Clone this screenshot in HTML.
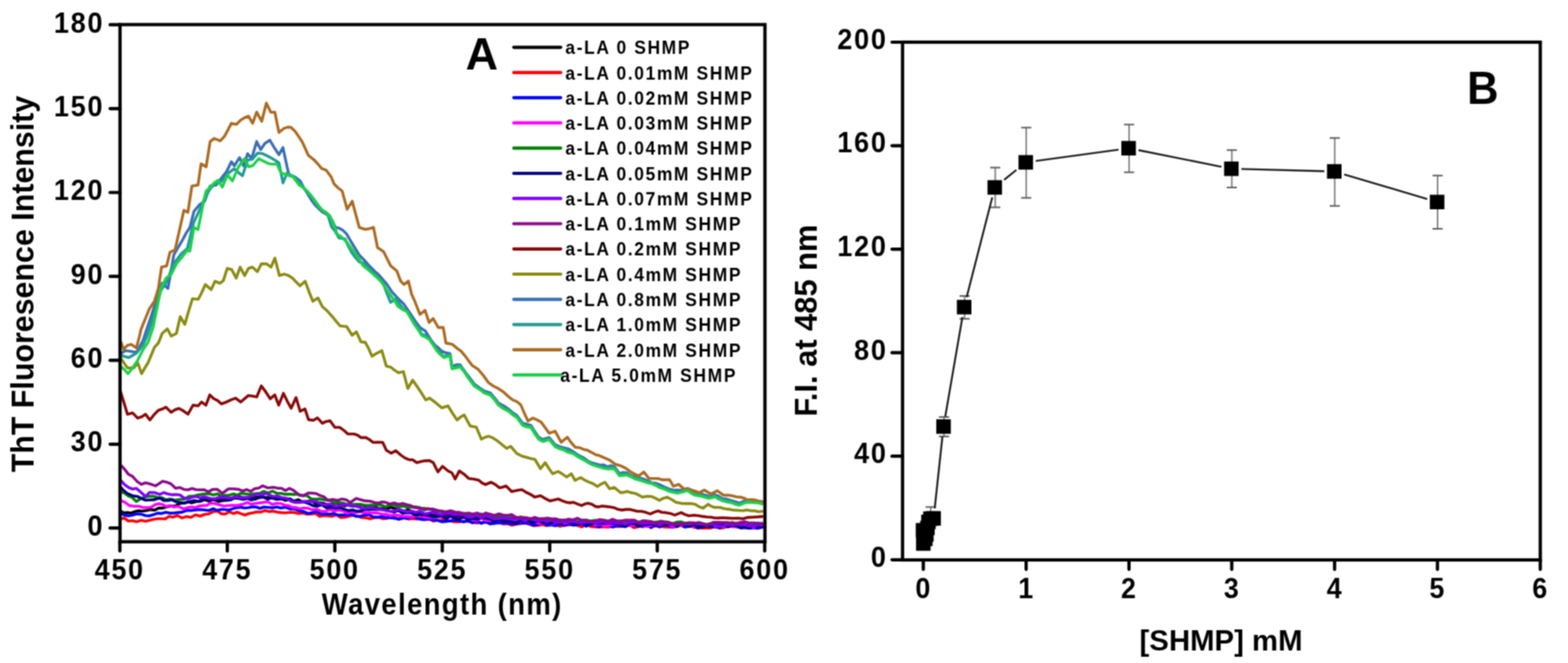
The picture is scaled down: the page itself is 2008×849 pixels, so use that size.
<!DOCTYPE html>
<html><head><meta charset="utf-8"><title>ThT fluorescence figure</title>
<style>html,body{margin:0;padding:0;background:#fff;} svg{display:block;}</style></head>
<body><svg width="2008" height="849" viewBox="0 0 2008 849">
<defs><clipPath id="clipA"><rect x="154" y="20" width="824" height="672"/></clipPath>
<filter id="soft" filterUnits="userSpaceOnUse" x="0" y="0" width="2008" height="849" color-interpolation-filters="sRGB"><feConvolveMatrix order="3" kernelMatrix="1 2 1 2 4 2 1 2 1" divisor="16.0" edgeMode="duplicate" preserveAlpha="true"/></filter></defs>
<g filter="url(#soft)">
<rect width="2008" height="849" fill="#fff"/>
<g clip-path="url(#clipA)">
<polyline points="154.5,654.5 158.8,656.8 163.0,656.4 167.8,657.0 172.7,655.1 177.6,654.0 182.4,654.5 187.6,653.8 192.8,652.6 197.9,653.3 203.1,650.6 208.3,650.6 213.8,649.1 219.3,648.0 224.8,647.9 230.3,644.8 235.5,644.2 240.7,642.6 245.8,643.9 251.0,642.2 256.5,642.0 262.1,639.9 267.6,641.9 273.1,639.6 279.6,642.2 286.0,640.9 290.9,640.8 295.8,639.9 300.6,636.2 305.5,635.7 310.4,636.9 315.2,637.9 320.0,637.4 324.9,637.0 329.6,636.9 334.4,635.4 339.1,637.0 344.3,637.1 349.6,638.1 354.8,639.6 360.0,638.3 365.5,640.8 371.0,639.5 376.4,641.7 381.9,639.9 387.4,642.8 392.9,642.4 398.4,640.9 403.8,644.4 409.3,643.7 414.8,644.8 420.2,646.4 425.6,646.1 431.0,643.8 436.4,646.1 441.8,647.9 447.1,645.7 452.5,646.4 457.9,648.9 463.3,646.5 468.7,648.3 474.1,647.3 479.5,648.7 484.9,651.3 490.2,651.3 495.6,650.6 501.0,649.8 506.3,651.4 511.7,652.9 517.1,655.2 522.4,652.6 527.8,655.1 533.2,656.4 538.5,656.4 543.9,658.2 549.3,657.8 554.6,660.2 560.0,659.0 565.6,659.8 571.2,660.2 576.9,660.0 582.5,661.0 588.1,660.6 593.8,661.7 599.4,661.0 605.0,661.0 610.6,661.4 616.2,663.5 621.9,664.1 627.5,663.8 633.1,662.6 638.8,665.7 644.4,666.6 650.0,665.5 655.6,667.4 661.2,667.3 666.8,667.8 672.4,668.1 678.0,666.8 683.6,666.4 689.2,667.9 694.8,666.4 700.4,668.7 706.0,669.1 711.6,669.5 717.2,668.5 722.8,670.2 728.4,668.9 734.0,668.6 739.6,669.7 745.2,671.2 750.8,671.1 756.4,670.9 762.0,668.2 767.6,670.6 773.2,670.3 778.8,671.1 784.4,672.2 790.0,671.0 795.5,670.0 800.9,672.0 806.4,669.6 811.9,670.1 817.4,672.5 822.8,670.7 828.3,672.7 833.8,669.9 839.2,670.1 844.7,672.4 850.2,669.8 855.6,672.0 861.1,673.4 866.6,672.0 872.1,672.6 877.5,670.0 883.0,672.5 888.5,672.5 893.9,672.4 899.4,671.7 904.9,671.7 910.4,674.2 915.8,670.5 921.3,670.5 926.8,674.3 932.2,671.3 937.7,671.1 943.2,671.5 948.6,673.9 954.1,674.5 959.6,670.9 965.1,672.6 970.5,671.3 976.0,673.0" fill="none" stroke="#000000" stroke-width="3.6" stroke-linejoin="round" stroke-linecap="round"/>
<polyline points="154.5,664.2 159.5,663.6 164.4,667.3 169.4,666.8 175.0,668.1 180.7,666.2 186.3,667.4 191.5,666.3 196.6,665.1 201.8,664.2 206.7,664.3 211.6,664.4 216.4,661.2 221.3,662.3 227.1,660.2 232.9,663.2 238.8,661.4 244.6,662.5 250.4,659.2 256.2,661.0 261.8,658.8 267.5,658.0 273.1,655.1 278.3,654.5 283.5,657.9 288.6,658.3 293.8,655.3 299.0,657.7 303.9,655.8 308.7,657.9 313.5,659.5 318.4,657.7 323.6,656.7 328.8,655.5 333.9,655.8 339.1,653.7 344.3,655.1 349.5,654.4 354.8,655.7 360.0,656.4 365.6,656.7 371.2,656.0 376.8,656.3 382.4,657.7 387.8,657.0 393.2,658.4 398.6,658.2 404.0,657.5 409.4,661.2 414.8,660.3 420.2,660.6 425.6,661.1 431.0,659.4 436.4,662.7 441.8,662.3 447.2,661.0 452.6,659.8 458.0,661.0 463.4,662.8 468.7,663.1 474.1,664.3 479.5,662.9 485.1,662.6 490.6,664.2 496.2,663.6 501.7,662.1 507.3,663.3 512.8,664.4 518.4,662.9 523.6,664.8 528.8,664.0 533.9,664.8 539.1,663.1 544.3,665.5 549.5,664.7 554.8,667.2 560.0,666.2 565.6,666.1 571.2,665.4 576.9,667.2 582.5,668.1 588.1,668.2 593.8,667.3 599.4,667.8 605.0,668.4 610.6,669.7 616.2,669.0 621.9,668.7 627.5,669.4 633.1,667.8 638.8,668.1 644.4,671.0 650.0,670.5 655.6,672.6 661.2,671.2 666.8,670.5 672.4,669.7 678.0,671.2 683.6,673.3 689.2,672.6 694.8,671.8 700.4,673.2 706.0,670.8 711.6,672.1 717.2,674.0 722.8,672.6 728.4,672.3 734.0,671.7 739.6,672.9 745.2,674.7 750.8,671.0 756.4,674.3 762.0,674.6 767.6,675.0 773.2,674.5 778.8,675.0 784.4,673.9 790.0,674.0 795.5,674.3 800.9,673.8 806.4,672.4 811.9,675.7 817.4,674.5 822.8,673.1 828.3,674.3 833.8,674.3 839.2,673.8 844.7,673.8 850.2,674.6 855.6,675.0 861.1,675.0 866.6,674.5 872.1,672.8 877.5,673.6 883.0,673.5 888.5,675.1 893.9,676.3 899.4,676.1 904.9,676.1 910.4,676.2 915.8,674.0 921.3,676.4 926.8,675.8 932.2,673.5 937.7,673.3 943.2,673.3 948.6,676.3 954.1,674.3 959.6,673.8 965.1,675.9 970.5,674.8 976.0,675.5" fill="none" stroke="#ff0000" stroke-width="3.6" stroke-linejoin="round" stroke-linecap="round"/>
<polyline points="154.5,657.1 159.5,659.8 164.4,660.6 169.4,659.7 175.0,658.1 180.7,658.4 186.3,660.3 191.5,660.6 196.6,659.1 201.8,657.1 207.0,657.6 212.2,656.1 217.3,657.1 222.5,657.0 227.7,656.4 233.4,655.9 239.1,653.5 244.8,653.8 250.5,652.9 256.2,652.5 261.8,653.0 267.5,653.7 273.1,651.3 278.0,653.6 282.8,652.4 287.6,652.5 292.5,653.2 297.7,651.6 302.9,650.1 308.0,649.4 313.2,650.5 318.4,650.0 323.2,649.1 328.1,649.2 332.9,651.0 337.8,649.3 343.4,649.7 348.9,650.2 354.4,649.2 360.0,650.6 365.8,649.6 371.6,651.7 377.3,651.8 383.1,654.2 388.9,655.1 394.4,657.5 400.0,656.5 405.5,654.9 411.1,658.2 416.6,658.1 422.2,658.3 427.7,657.7 433.3,659.6 438.8,659.3 444.4,659.7 449.9,658.3 455.5,661.1 461.0,661.3 466.6,659.7 472.2,658.9 477.7,661.8 483.3,662.2 488.8,661.8 494.4,662.6 499.9,663.0 505.5,663.6 510.7,665.0 515.9,663.1 521.0,664.1 526.2,662.0 531.4,662.3 537.1,664.6 542.8,665.5 548.6,664.5 554.3,665.7 560.0,666.2 565.6,668.1 571.2,667.6 576.9,666.9 582.5,666.0 588.1,666.7 593.8,668.4 599.4,666.5 605.0,669.7 610.6,667.4 616.2,670.2 621.9,668.1 627.5,670.9 633.1,670.1 638.8,669.5 644.4,669.8 650.0,670.0 655.6,670.7 661.2,670.6 666.8,669.7 672.4,669.4 678.0,670.7 683.6,672.6 689.2,671.5 694.8,669.4 700.4,672.5 706.0,672.3 711.6,673.2 717.2,670.4 722.8,672.8 728.4,670.2 734.0,672.7 739.6,671.3 745.2,671.3 750.8,674.0 756.4,671.1 762.0,672.9 767.6,674.4 773.2,672.1 778.8,672.1 784.4,674.9 790.0,673.5 795.5,673.2 800.9,674.5 806.4,671.8 811.9,673.1 817.4,672.4 822.8,674.5 828.3,672.1 833.8,675.7 839.2,672.0 844.7,674.9 850.2,672.1 855.6,673.1 861.1,675.3 866.6,672.7 872.1,672.9 877.5,675.0 883.0,673.8 888.5,672.5 893.9,676.3 899.4,673.0 904.9,672.6 910.4,673.8 915.8,675.0 921.3,675.5 926.8,673.1 932.2,674.0 937.7,672.8 943.2,674.5 948.6,675.8 954.1,675.8 959.6,676.5 965.1,675.9 970.5,676.4 976.0,675.0" fill="none" stroke="#0000ff" stroke-width="3.6" stroke-linejoin="round" stroke-linecap="round"/>
<polyline points="154.5,640.9 160.0,643.1 165.5,647.4 171.3,648.2 177.2,648.2 183.1,649.8 188.9,650.0 193.8,649.5 198.6,646.3 203.5,645.1 208.3,646.1 213.0,648.5 217.8,647.3 222.5,649.3 228.6,648.5 234.6,651.7 240.7,650.0 245.6,649.2 250.4,650.0 255.2,648.0 260.1,647.4 264.9,647.1 269.6,644.3 274.4,644.8 280.4,646.2 286.5,648.0 292.5,647.4 297.4,647.0 302.2,647.4 307.0,646.6 311.9,645.4 316.8,643.3 321.6,645.8 326.5,644.8 331.4,644.1 337.1,643.4 342.8,642.5 348.6,646.0 354.3,644.6 360.0,644.8 364.7,647.0 369.4,647.4 374.3,649.7 379.1,649.9 384.0,651.5 388.9,650.6 394.4,650.7 400.0,652.9 405.5,652.0 411.1,654.6 416.6,654.9 422.2,652.3 427.7,654.5 433.3,653.3 438.8,653.9 444.4,657.2 449.9,655.3 455.5,656.4 461.0,655.3 466.6,656.4 472.2,656.8 477.7,656.7 483.3,656.9 488.8,658.2 494.4,658.6 499.9,660.2 505.5,659.0 510.9,660.0 516.4,661.2 521.9,661.2 527.3,662.0 532.8,661.0 538.2,659.2 543.6,662.3 549.1,662.9 554.5,663.0 560.0,661.6 565.6,662.2 571.2,663.1 576.9,661.5 582.5,664.3 588.1,663.6 593.8,662.8 599.4,662.2 605.0,665.7 610.6,666.6 616.2,663.3 621.9,666.5 627.5,665.3 633.1,664.6 638.8,665.5 644.4,667.7 650.0,667.0 655.6,668.7 661.2,665.6 666.8,668.1 672.4,666.0 678.0,668.9 683.6,667.5 689.2,669.9 694.8,670.5 700.4,668.8 706.0,671.0 711.6,668.4 717.2,667.7 722.8,670.0 728.4,667.9 734.0,668.8 739.6,669.8 745.2,670.8 750.8,669.2 756.4,669.0 762.0,672.5 767.6,670.5 773.2,673.2 778.8,673.2 784.4,671.3 790.0,672.0 795.5,671.9 800.9,672.2 806.4,672.8 811.9,672.6 817.4,672.5 822.8,672.8 828.3,674.2 833.8,672.5 839.2,672.3 844.7,673.5 850.2,671.6 855.6,671.9 861.1,674.7 866.6,672.9 872.1,673.1 877.5,671.0 883.0,672.7 888.5,673.4 893.9,671.2 899.4,673.6 904.9,673.8 910.4,671.5 915.8,673.9 921.3,673.3 926.8,674.2 932.2,672.9 937.7,674.4 943.2,674.6 948.6,671.8 954.1,672.0 959.6,674.5 965.1,675.7 970.5,672.9 976.0,674.0" fill="none" stroke="#ff00ff" stroke-width="3.6" stroke-linejoin="round" stroke-linecap="round"/>
<polyline points="154.5,629.9 159.4,631.4 164.3,635.1 169.4,637.1 174.6,642.2 179.1,639.2 183.7,637.0 189.7,635.6 195.8,635.3 201.8,637.0 207.0,637.2 212.2,639.9 217.4,638.9 223.9,640.5 230.3,639.6 236.1,639.2 241.9,635.6 247.8,635.4 253.6,633.8 258.5,632.9 263.4,632.5 268.2,632.2 273.1,633.8 278.3,632.4 283.5,635.0 288.6,634.3 293.8,634.0 299.0,632.5 303.9,633.9 308.7,631.6 313.5,632.2 318.4,633.1 323.2,632.6 328.1,632.1 332.9,631.6 337.8,629.2 343.4,631.4 348.9,628.8 354.4,631.6 360.0,631.8 365.3,632.9 370.6,632.7 375.9,633.1 381.5,632.8 387.1,634.9 392.8,634.4 398.4,638.7 404.0,639.4 409.6,638.9 415.8,640.2 421.9,640.4 428.1,644.0 434.2,643.5 439.6,644.3 445.0,646.1 450.4,646.5 455.8,645.7 461.2,645.8 466.6,646.7 472.1,647.3 477.6,646.9 483.0,646.1 488.5,646.9 494.0,649.2 499.5,646.4 504.9,646.7 510.4,649.2 515.9,648.1 521.4,649.4 526.8,649.4 532.3,649.1 537.8,650.0 543.3,653.2 548.9,651.3 554.5,653.4 560.0,655.0 565.6,654.3 571.2,656.5 576.9,655.6 582.5,656.4 588.1,658.5 593.8,657.3 599.4,658.7 605.0,660.6 610.6,657.9 616.2,658.2 621.9,659.4 627.5,662.1 633.1,662.0 638.8,660.9 644.4,661.8 650.0,663.0 655.6,662.0 661.2,663.3 666.8,661.9 672.4,664.7 678.0,665.8 683.6,666.3 689.2,665.6 694.8,666.8 700.4,663.2 706.0,664.6 711.6,667.5 717.2,667.0 722.8,665.8 728.4,668.1 734.0,667.1 739.6,668.1 745.2,666.3 750.8,666.1 756.4,667.3 762.0,666.3 767.6,667.6 773.2,670.1 778.8,667.8 784.4,666.8 790.0,669.0 795.5,667.3 800.9,667.8 806.4,670.4 811.9,668.7 817.4,668.5 822.8,667.8 828.3,671.4 833.8,669.3 839.2,668.5 844.7,668.0 850.2,668.0 855.6,668.6 861.1,670.7 866.6,668.6 872.1,668.3 877.5,670.1 883.0,669.2 888.5,672.3 893.9,668.9 899.4,670.6 904.9,671.6 910.4,670.3 915.8,672.6 921.3,670.7 926.8,669.8 932.2,670.6 937.7,669.1 943.2,670.7 948.6,670.1 954.1,672.8 959.6,672.6 965.1,671.3 970.5,669.6 976.0,671.5" fill="none" stroke="#008000" stroke-width="3.6" stroke-linejoin="round" stroke-linecap="round"/>
<polyline points="154.5,624.0 158.8,628.4 163.0,631.8 169.4,634.7 175.9,635.7 181.1,638.4 186.3,640.5 191.5,640.2 197.9,639.9 204.4,637.6 209.6,640.9 214.8,640.9 220.0,639.9 225.1,642.5 230.3,643.5 236.4,644.4 242.4,642.4 248.5,640.9 254.5,642.1 260.6,638.5 266.6,639.6 272.6,639.5 278.7,638.6 284.7,639.6 290.1,639.8 295.6,639.9 301.0,637.7 306.5,638.5 311.9,639.6 316.8,638.2 321.6,640.3 326.5,639.2 331.4,637.6 337.1,636.5 342.8,639.3 348.6,637.0 354.3,639.2 360.0,639.0 365.9,638.5 371.8,638.9 377.6,643.4 383.5,641.7 389.4,642.7 395.3,644.8 401.0,647.6 406.6,648.1 412.3,646.6 418.0,650.2 423.7,649.4 429.4,650.8 435.0,649.8 440.7,651.9 446.0,653.9 451.3,653.1 456.6,654.5 461.9,654.4 467.2,652.3 472.5,652.8 477.8,652.2 483.1,652.4 488.4,652.3 493.7,653.5 499.0,654.5 504.5,655.6 510.1,653.8 515.6,657.1 521.2,656.4 526.7,657.0 532.3,659.6 537.8,658.9 543.4,658.9 548.9,660.2 554.5,661.8 560.0,661.6 565.6,660.2 571.2,664.2 576.9,660.7 582.5,663.9 588.1,664.7 593.8,661.7 599.4,665.1 605.0,663.8 610.6,665.0 616.2,663.0 621.9,663.5 627.5,664.4 633.1,667.8 638.8,665.1 644.4,667.7 650.0,667.0 655.6,668.9 661.2,669.1 666.8,666.9 672.4,667.1 678.0,668.0 683.6,669.2 689.2,666.7 694.8,669.4 700.4,669.8 706.0,670.2 711.6,667.1 717.2,670.9 722.8,667.7 728.4,668.9 734.0,670.1 739.6,671.6 745.2,669.4 750.8,671.9 756.4,670.6 762.0,669.8 767.6,670.0 773.2,669.7 778.8,669.5 784.4,669.9 790.0,671.5 795.5,672.3 800.9,673.6 806.4,670.4 811.9,670.0 817.4,673.8 822.8,672.1 828.3,671.6 833.8,671.0 839.2,672.5 844.7,673.5 850.2,672.1 855.6,672.1 861.1,670.7 866.6,674.2 872.1,670.7 877.5,672.7 883.0,674.1 888.5,671.3 893.9,673.8 899.4,674.8 904.9,673.6 910.4,674.3 915.8,671.6 921.3,673.0 926.8,671.9 932.2,674.8 937.7,672.7 943.2,673.4 948.6,675.6 954.1,675.1 959.6,675.7 965.1,673.7 970.5,673.9 976.0,674.0" fill="none" stroke="#000080" stroke-width="3.6" stroke-linejoin="round" stroke-linecap="round"/>
<polyline points="154.5,615.0 160.0,621.0 165.5,624.7 170.1,626.3 174.6,625.3 180.4,630.4 186.3,635.7 191.5,630.5 197.9,630.8 204.4,633.1 209.6,630.8 214.8,632.5 220.0,633.6 225.1,633.2 230.3,633.8 235.5,637.4 240.7,638.9 245.8,636.8 251.0,635.7 256.2,637.4 261.4,636.1 266.6,637.6 271.5,638.7 276.3,638.2 281.1,636.8 286.0,637.0 291.2,637.2 296.4,637.7 301.5,635.8 306.7,637.2 311.9,637.0 318.4,636.9 324.9,634.4 330.1,632.6 335.2,633.9 340.4,631.8 345.3,633.8 350.2,635.8 355.1,635.0 360.0,637.0 366.6,638.0 373.3,642.2 378.8,643.4 384.3,643.4 389.8,642.0 395.3,642.2 400.8,641.6 406.4,642.9 411.9,645.7 417.4,646.1 423.4,645.5 429.3,648.4 435.3,647.2 441.2,645.9 447.2,647.4 452.4,648.5 457.6,647.9 462.7,650.7 467.9,651.1 473.1,650.0 478.5,650.7 483.9,651.8 489.3,652.7 494.7,653.8 500.1,655.1 505.5,653.8 510.9,652.3 516.4,654.0 521.9,655.4 527.3,654.6 532.8,656.1 538.2,654.5 543.6,658.1 549.1,657.0 554.5,655.8 560.0,657.7 565.6,658.8 571.2,657.8 576.9,657.8 582.5,659.3 588.1,658.4 593.8,659.1 599.4,662.1 605.0,661.9 610.6,659.6 616.2,663.1 621.9,660.4 627.5,662.1 633.1,664.8 638.8,664.1 644.4,663.3 650.0,664.5 655.6,664.2 661.2,664.5 666.8,663.7 672.4,667.4 678.0,663.8 683.6,665.5 689.2,667.0 694.8,665.9 700.4,668.4 706.0,665.7 711.6,668.8 717.2,668.7 722.8,668.0 728.4,669.1 734.0,667.6 739.6,669.3 745.2,669.4 750.8,668.5 756.4,668.6 762.0,669.7 767.6,668.8 773.2,667.7 778.8,670.5 784.4,668.8 790.0,670.0 795.5,670.0 800.9,671.3 806.4,668.9 811.9,668.4 817.4,668.9 822.8,670.8 828.3,670.0 833.8,669.6 839.2,670.5 844.7,672.4 850.2,669.8 855.6,670.5 861.1,672.5 866.6,671.5 872.1,670.2 877.5,671.1 883.0,671.2 888.5,669.9 893.9,670.9 899.4,670.7 904.9,672.8 910.4,670.9 915.8,672.3 921.3,673.6 926.8,673.5 932.2,671.4 937.7,672.4 943.2,671.3 948.6,671.7 954.1,672.2 959.6,673.5 965.1,674.1 970.5,671.6 976.0,672.5" fill="none" stroke="#8000ff" stroke-width="3.6" stroke-linejoin="round" stroke-linecap="round"/>
<polyline points="154.5,595.5 159.4,600.7 164.3,607.2 169.9,610.2 175.5,616.4 181.1,620.2 186.3,618.2 191.5,619.5 199.2,622.1 203.8,619.3 208.3,616.3 213.5,617.4 218.7,619.5 225.1,625.3 230.3,624.3 235.5,626.7 240.7,627.3 245.9,625.5 251.0,627.0 256.2,627.3 261.4,627.0 266.6,629.9 272.5,626.7 278.3,626.6 284.7,631.8 292.5,626.0 299.0,626.0 305.5,626.6 310.7,628.7 315.8,626.9 321.0,629.2 326.2,625.8 331.3,625.0 336.5,622.1 343.2,624.8 350.0,624.0 355.2,625.1 360.4,625.2 365.5,628.1 370.7,625.4 375.9,627.9 383.7,634.4 389.5,634.2 395.3,631.2 400.1,631.5 404.8,632.0 409.6,634.4 414.8,636.2 420.0,640.9 426.0,639.5 432.1,640.8 438.1,638.9 443.3,640.0 448.5,643.5 456.2,638.3 462.0,639.9 467.9,641.4 473.7,641.7 479.5,643.5 484.4,644.2 489.2,642.8 494.1,643.3 499.0,645.4 504.6,644.1 510.2,645.7 515.8,644.8 521.0,646.3 526.2,647.6 531.4,650.0 537.4,651.0 543.5,651.1 549.5,651.9 554.8,651.9 560.0,653.5 565.7,655.1 571.4,655.3 577.1,654.0 582.9,655.8 588.6,656.1 594.3,657.9 600.0,657.0 605.6,658.2 611.1,656.9 616.7,659.8 622.2,656.9 627.8,658.4 633.3,660.0 638.9,658.0 644.4,659.6 650.0,660.0 654.9,658.9 659.8,661.9 664.6,662.9 669.5,662.5 674.6,663.0 679.7,664.4 684.8,662.5 689.8,664.2 694.9,664.1 700.0,664.0 705.6,664.5 711.2,664.2 716.9,665.9 722.5,666.4 728.1,664.8 733.8,665.7 739.4,663.6 745.0,666.3 750.6,666.2 756.2,667.7 761.9,667.3 767.5,665.4 773.1,666.0 778.8,667.3 784.4,665.0 790.0,667.0 795.6,667.0 801.2,666.1 806.9,666.1 812.5,666.1 818.1,669.0 823.8,666.7 829.4,667.4 835.0,668.1 840.6,670.1 846.2,667.3 851.9,668.9 857.5,669.4 863.1,670.9 868.8,670.8 874.4,671.2 880.0,670.0 885.6,669.2 891.3,669.7 896.9,669.5 902.6,671.5 908.2,671.7 913.9,668.7 919.5,668.8 925.2,669.0 930.8,669.0 936.5,669.9 942.1,670.3 947.8,669.1 953.4,668.1 959.1,669.7 964.7,669.5 970.4,670.3 976.0,670.0" fill="none" stroke="#8a0a8a" stroke-width="3.6" stroke-linejoin="round" stroke-linecap="round"/>
<polyline points="154.1,500.8 158.6,515.1 163.2,530.4 169.8,528.8 176.4,535.4 181.4,533.7 186.3,530.4 192.0,537.9 197.3,531.0 202.7,525.5 207.6,523.8 212.6,521.4 219.2,528.0 224.1,524.8 229.1,523.0 234.9,526.2 240.7,530.4 247.2,518.9 253.8,519.7 258.0,514.8 263.7,518.9 268.7,505.7 273.6,510.4 278.6,512.8 283.5,517.2 289.5,515.0 295.6,512.2 301.6,509.8 308.2,514.8 313.1,510.6 318.1,506.5 323.5,507.3 328.8,508.2 334.6,494.2 340.4,501.9 346.1,510.7 351.9,505.7 356.9,518.9 363.0,503.7 367.9,513.8 372.9,522.8 379.1,509.1 384.4,526.7 390.5,523.6 395.1,537.4 401.3,538.2 406.6,535.1 412.8,542.0 417.8,539.7 422.7,538.9 428.8,547.3 435.0,547.3 440.4,551.1 445.7,555.8 453.3,555.8 457.9,557.2 462.5,560.4 468.7,560.4 473.2,563.0 477.8,566.5 484.0,566.3 490.1,566.5 494.7,576.4 500.8,580.3 506.9,577.2 513.1,582.6 518.5,586.4 523.8,588.7 528.4,588.7 533.8,592.5 539.1,591.0 544.3,590.1 549.5,589.7 554.8,592.4 560.8,604.3 566.7,597.2 573.9,603.1 578.7,605.5 582.9,613.3 588.2,603.1 594.2,607.2 600.2,612.7 606.8,613.5 613.3,615.1 617.5,618.7 621.7,620.5 628.9,617.5 634.2,620.3 639.6,624.7 643.8,623.7 648.0,622.3 655.2,629.4 661.8,628.0 668.3,627.0 673.9,630.5 679.4,633.1 685.0,636.6 692.2,634.8 698.2,638.4 704.2,641.4 709.5,640.2 714.9,639.0 720.3,641.4 725.7,643.2 729.9,643.9 734.1,643.2 739.5,645.4 744.8,647.4 749.0,645.3 753.2,644.4 758.0,645.7 762.7,648.6 766.9,649.1 771.1,648.0 776.5,648.6 781.9,649.2 786.7,650.2 791.5,652.3 796.5,653.1 801.4,652.4 806.4,652.3 811.3,653.5 816.3,654.7 821.2,654.8 827.0,656.1 832.7,658.1 837.7,655.9 842.6,654.3 847.5,656.0 852.5,656.4 858.3,657.4 864.1,659.7 872.3,656.4 877.2,658.9 882.2,660.5 888.8,659.8 895.4,660.5 900.3,661.4 905.3,662.0 910.2,662.2 915.1,663.3 920.1,663.4 925.0,663.0 931.6,663.4 938.2,663.8 944.8,663.5 951.4,664.2 958.0,662.6 964.6,662.2 970.4,661.9 976.1,661.4" fill="none" stroke="#880808" stroke-width="3.6" stroke-linejoin="round" stroke-linecap="round"/>
<polyline points="154.1,457.9 158.6,464.4 163.2,471.1 171.4,471.1 176.4,464.5 181.3,478.5 185.4,471.3 189.6,464.5 197.8,444.7 202.8,439.3 207.7,427.0 214.3,421.2 219.3,430.3 225.9,427.0 230.8,405.5 236.6,415.4 241.6,398.3 246.5,382.5 253.9,383.3 258.4,374.5 263.0,364.3 270.4,370.9 275.3,360.2 281.9,362.7 286.0,359.4 291.0,343.7 296.8,345.3 302.5,356.1 307.5,342.0 313.3,352.8 318.2,343.7 323.1,342.0 329.7,347.8 334.7,337.9 341.3,337.9 347.1,342.0 352.0,330.5 357.8,352.8 364.4,351.1 369.4,352.7 374.3,356.1 379.2,361.1 384.2,366.0 390.8,360.2 395.8,373.7 400.7,385.8 407.3,381.6 412.7,392.5 419.0,398.1 425.4,405.2 430.4,411.3 435.3,417.2 439.6,417.8 443.8,418.0 450.9,429.3 456.5,425.0 462.2,437.7 467.8,438.4 472.1,446.4 476.3,456.1 482.6,452.3 489.0,449.0 494.7,468.8 500.4,470.2 505.3,474.1 510.2,477.3 516.6,475.9 522.3,497.6 528.4,486.8 533.8,494.4 539.1,502.2 545.2,512.1 550.0,509.8 558.1,515.8 565.9,522.3 573.7,519.7 579.5,529.2 585.3,537.8 589.8,534.0 594.4,531.4 602.2,545.6 609.9,546.9 616.4,562.4 621.0,560.0 625.5,558.6 630.6,560.4 635.8,563.7 642.3,568.9 648.8,574.1 654.0,571.5 661.7,580.6 668.2,584.0 674.7,585.8 679.9,587.2 685.0,588.3 692.2,600.2 698.2,592.4 703.0,600.0 707.8,606.7 714.9,603.7 720.3,607.1 725.7,610.9 731.7,606.7 736.4,615.1 743.6,611.5 748.4,614.6 753.2,616.9 759.2,619.2 765.1,622.9 769.9,619.8 774.7,617.5 780.7,625.9 786.6,624.1 794.8,630.9 799.0,630.4 803.1,629.2 808.0,630.9 813.0,631.7 818.0,634.0 822.9,636.6 828.6,635.5 834.4,635.8 839.3,637.9 844.3,640.8 849.2,638.2 854.2,636.6 860.0,639.5 865.7,643.2 872.3,644.6 878.9,644.9 884.6,644.8 890.4,645.7 895.3,648.9 900.3,650.7 906.9,645.7 911.0,648.4 915.2,649.8 921.8,649.8 928.3,651.5 933.2,652.1 938.2,653.1 944.8,653.5 951.4,654.0 956.3,653.1 961.3,654.0 966.2,654.1 971.2,655.3 976.1,654.8" fill="none" stroke="#8a8a12" stroke-width="3.6" stroke-linejoin="round" stroke-linecap="round"/>
<polyline points="155.0,453.0 160.0,449.0 166.5,449.7 174.7,451.3 178.8,444.1 183.0,436.5 187.9,421.7 192.9,407.2 200.0,385.0 207.7,362.7 215.1,369.3 222.6,326.4 228.3,316.7 234.1,306.6 238.6,298.2 243.2,291.3 248.4,270.6 256.2,261.5 262.0,258.0 269.1,238.2 276.9,236.9 284.7,226.6 290.0,220.0 296.3,207.1 300.2,212.3 306.7,201.9 311.9,212.3 317.1,196.8 322.2,203.2 328.7,181.2 333.9,191.6 339.1,183.8 345.5,179.4 352.0,190.3 357.2,198.1 362.4,189.0 367.6,213.6 370.2,224.0 377.9,226.6 384.4,231.7 388.9,240.3 393.5,247.3 398.6,255.9 403.8,262.8 411.6,270.6 416.8,273.6 421.9,275.8 429.7,291.3 434.1,292.1 438.9,294.8 443.6,299.2 447.8,306.4 452.0,313.5 460.0,326.5 465.9,332.5 471.8,339.3 480.0,347.5 484.1,351.0 488.3,355.8 495.0,363.5 502.5,374.6 510.0,382.5 516.6,388.7 524.0,399.5 532.0,411.5 538.0,419.5 544.9,424.1 552.0,435.5 556.7,441.6 561.4,445.3 565.7,449.7 570.0,451.5 576.3,452.8 578.9,469.6 584.0,467.1 589.2,467.0 594.4,475.1 599.6,481.3 607.3,491.6 613.8,496.4 620.3,500.7 628.1,503.3 633.2,509.4 638.4,516.2 644.9,519.5 651.4,524.0 656.5,528.4 661.7,531.8 669.5,542.1 674.7,543.3 679.9,544.7 685.0,552.9 690.2,560.2 695.4,562.8 703.2,560.2 710.9,569.3 716.1,571.7 721.3,573.2 727.8,574.8 734.2,578.4 740.7,582.9 747.2,586.1 752.4,590.0 757.5,592.5 762.7,593.9 767.9,595.5 773.1,595.3 778.3,597.8 782.5,596.3 786.6,597.4 793.2,606.4 798.2,605.0 803.1,605.6 808.0,609.2 813.0,610.5 818.5,611.7 823.9,613.5 829.4,615.5 834.3,618.2 839.3,618.8 845.1,620.8 850.9,623.7 856.6,625.9 862.4,627.8 867.3,627.6 872.3,627.8 880.5,625.4 884.6,627.1 888.8,631.1 893.8,632.2 898.7,632.8 906.9,635.3 911.0,635.3 915.2,633.6 920.1,635.2 925.0,638.6 930.8,639.1 936.6,641.0 941.5,642.4 946.5,644.3 954.7,641.0 960.5,639.8 966.3,641.0 971.2,641.8 976.1,642.7" fill="none" stroke="#3a6db5" stroke-width="3.6" stroke-linejoin="round" stroke-linecap="round"/>
<polyline points="155.0,455.4 159.9,456.5 164.8,457.9 169.9,455.1 175.0,452.0 183.0,442.0 187.5,432.3 192.0,420.0 196.7,403.9 201.3,388.0 206.0,372.0 214.0,360.0 222.0,338.0 227.0,331.8 232.0,325.0 240.0,318.0 248.0,285.0 256.0,268.0 264.0,250.0 269.0,242.1 274.0,236.0 279.0,234.0 284.0,232.0 292.0,222.0 300.0,216.0 305.4,221.0 310.6,225.0 317.0,205.0 323.0,204.0 330.0,196.0 336.5,196.8 344.3,200.6 352.0,205.0 357.2,208.4 362.4,234.3 367.6,221.4 371.8,224.1 376.0,226.0 384.0,234.0 388.8,240.9 393.5,246.0 398.6,251.8 403.8,260.0 411.6,269.0 415.8,271.9 420.0,276.0 424.7,290.6 429.4,296.5 434.1,304.8 442.0,306.0 446.3,315.7 450.6,323.6 455.4,330.1 460.1,335.4 465.1,336.8 470.0,341.0 475.0,347.4 480.0,351.0 485.0,357.4 490.0,361.0 495.1,374.6 500.1,387.2 507.2,382.5 515.0,394.0 522.0,400.0 526.5,407.3 531.0,414.0 535.5,420.0 540.0,428.0 545.0,429.5 550.0,434.0 554.5,440.6 559.0,447.0 563.5,450.7 568.0,457.0 572.1,454.8 576.3,454.4 578.9,471.2 584.0,469.1 589.2,468.6 594.4,474.3 599.6,482.9 607.3,493.2 613.8,497.6 620.3,502.3 628.1,504.9 633.2,511.2 638.4,517.8 644.9,522.7 651.4,525.6 656.5,529.6 661.7,533.4 669.5,543.7 674.7,545.4 679.9,546.3 685.0,554.0 690.2,561.8 695.4,564.4 703.2,561.8 710.9,570.9 716.1,573.3 721.3,574.8 727.8,577.3 734.2,580.0 740.7,583.2 747.2,587.7 752.4,591.8 757.5,594.4 762.7,595.5 767.9,597.8 773.1,598.7 778.3,599.4 782.5,598.6 786.6,599.0 793.2,608.0 798.2,606.8 803.1,607.2 808.0,609.0 813.0,612.1 818.5,612.5 823.9,616.2 829.4,617.1 834.3,618.5 839.3,620.4 845.1,623.9 850.9,625.3 856.6,627.0 862.4,629.4 867.3,630.8 872.3,629.4 880.5,627.0 884.6,630.9 888.8,632.7 893.8,632.1 898.7,634.4 906.9,636.9 911.0,635.2 915.2,635.2 920.1,638.9 925.0,640.2 930.8,641.3 936.6,642.6 941.5,645.7 946.5,645.9 954.7,642.6 960.5,642.3 966.3,642.6 971.2,642.2 976.1,644.3" fill="none" stroke="#209a98" stroke-width="3.6" stroke-linejoin="round" stroke-linecap="round"/>
<polyline points="155.0,438.0 158.2,447.2 163.2,442.3 168.0,441.0 174.7,445.5 178.8,429.9 180.5,422.0 185.8,408.8 191.2,395.6 197.8,385.8 202.8,369.3 206.9,342.0 213.5,340.4 217.6,323.1 224.2,319.8 229.8,294.8 235.5,269.3 240.6,271.9 245.8,238.2 253.6,236.9 257.5,209.7 264.0,213.6 269.1,181.2 274.3,177.3 282.1,180.4 287.3,174.8 291.8,166.6 296.3,157.9 302.8,159.2 308.0,154.0 313.1,150.8 318.3,148.8 323.5,157.9 328.7,143.7 335.2,155.3 341.1,132.0 346.8,143.7 352.0,143.7 357.2,169.6 363.7,164.4 368.2,162.9 372.7,163.1 378.0,168.2 382.6,174.9 387.2,182.0 394.8,198.8 402.5,205.0 407.1,209.9 411.7,215.6 417.8,218.0 424.0,226.4 427.8,235.5 433.0,240.6 438.1,244.6 444.6,267.9 451.1,257.6 455.6,274.7 460.1,291.2 467.9,293.8 473.1,292.7 478.3,291.2 483.5,317.1 491.2,322.3 495.8,331.5 500.3,340.4 508.1,346.9 513.1,360.0 517.3,364.2 523.0,360.0 527.2,377.0 530.1,383.2 537.8,402.6 544.3,397.4 549.5,413.0 554.7,407.8 561.2,419.4 567.6,419.4 571.1,439.4 578.9,440.7 584.7,445.5 590.5,449.8 595.2,455.2 600.0,461.8 604.7,467.9 612.5,473.1 619.0,480.9 625.5,489.9 632.0,494.5 638.4,497.7 644.9,502.1 651.4,508.1 656.6,512.1 661.7,514.2 666.9,518.4 671.5,529.1 676.0,539.1 682.5,535.3 687.6,537.6 692.8,540.4 698.0,547.4 703.2,554.7 710.9,552.1 718.7,566.3 726.5,559.9 731.6,567.0 736.8,572.8 742.0,573.2 747.2,575.4 752.4,576.6 757.6,579.3 762.8,582.2 767.9,583.6 773.1,585.8 780.0,588.8 788.2,594.6 794.8,596.4 801.4,599.6 806.9,603.7 812.4,606.9 817.9,609.4 824.5,604.5 831.1,612.7 839.3,612.7 843.5,612.9 847.6,614.4 852.5,614.3 857.5,614.4 862.4,622.6 869.0,620.2 875.6,625.9 880.5,626.1 885.5,627.6 890.5,628.9 895.4,630.9 902.0,627.6 910.2,632.5 914.4,630.7 918.5,628.4 926.7,634.2 932.5,634.0 938.2,635.0 943.2,636.2 948.1,636.6 953.0,637.9 958.0,640.8 962.1,639.8 966.3,640.0 971.2,641.8 976.1,642.4" fill="none" stroke="#ab6a22" stroke-width="3.6" stroke-linejoin="round" stroke-linecap="round"/>
<polyline points="155.0,469.4 159.5,473.5 164.0,478.5 169.8,471.1 176.4,461.2 183.0,448.0 189.6,438.5 196.2,418.7 201.1,394.3 206.1,369.3 212.7,356.1 219.3,351.1 225.9,337.9 234.1,328.0 239.0,321.4 243.2,321.4 248.4,291.3 253.6,293.9 261.4,255.0 264.0,244.7 269.1,239.8 274.3,234.3 279.0,231.0 284.7,239.5 291.2,224.0 297.6,231.7 305.4,213.6 313.2,203.2 318.3,213.6 323.5,212.3 331.3,203.2 336.5,205.8 344.3,209.7 349.5,210.3 354.6,209.7 359.8,221.4 367.6,224.0 375.3,226.6 383.1,236.9 388.3,240.2 393.5,244.7 398.6,250.7 403.8,257.6 411.6,268.0 419.4,273.2 426.0,283.0 431.8,300.0 436.5,302.9 441.2,307.0 445.9,312.5 450.6,319.0 457.0,327.0 464.8,340.0 471.0,345.0 478.9,352.0 485.0,357.0 490.7,364.0 495.4,371.4 500.1,378.0 504.8,384.3 509.5,392.0 515.0,396.0 521.3,399.0 526.0,407.3 530.7,415.5 535.5,422.1 540.2,429.7 544.9,431.7 549.6,434.4 554.3,441.3 559.0,448.5 563.7,453.9 568.4,458.0 576.3,455.5 578.9,472.3 584.0,471.2 589.2,469.7 594.4,476.0 599.6,484.0 607.3,494.3 613.8,498.4 620.3,503.4 628.1,506.0 633.2,511.8 638.4,518.9 644.9,523.5 651.4,526.7 656.5,531.2 661.7,534.5 669.5,544.8 674.7,546.7 679.9,547.4 685.0,555.7 690.2,562.9 695.4,565.5 703.2,562.9 710.9,572.0 716.1,574.4 721.3,575.9 727.8,579.3 734.2,581.1 740.7,585.5 747.2,588.8 752.4,591.0 757.5,594.6 762.7,596.6 767.9,597.9 773.1,599.7 778.3,600.5 782.5,600.4 786.6,600.1 793.2,609.1 798.2,608.6 803.1,608.3 808.0,610.5 813.0,613.2 818.5,614.7 823.9,616.2 829.4,618.2 834.3,619.2 839.3,621.5 845.1,624.5 850.9,626.4 856.6,629.0 862.4,630.5 867.3,631.4 872.3,630.5 880.5,628.1 884.6,631.3 888.8,633.8 893.8,634.7 898.7,635.5 906.9,638.0 911.0,637.6 915.2,636.3 920.1,638.1 925.0,641.3 930.8,642.8 936.6,643.7 941.5,645.2 946.5,647.0 954.7,643.7 960.5,643.1 966.3,643.7 971.2,644.0 976.1,645.4" fill="none" stroke="#1ecf4a" stroke-width="3.6" stroke-linejoin="round" stroke-linecap="round"/>
</g>
<rect x="153.7" y="31.5" width="825.9000000000001" height="662.2" fill="none" stroke="#000" stroke-width="4.2"/>
<line x1="141.0" y1="31.7" x2="153.7" y2="31.7" stroke="#000" stroke-width="4.2" stroke-linecap="round"/>
<line x1="153.5" y1="693.7" x2="153.5" y2="705.6" stroke="#000" stroke-width="4.2" stroke-linecap="round"/>
<line x1="141.0" y1="139.1" x2="153.7" y2="139.1" stroke="#000" stroke-width="4.2" stroke-linecap="round"/>
<line x1="291.1" y1="693.7" x2="291.1" y2="705.6" stroke="#000" stroke-width="4.2" stroke-linecap="round"/>
<line x1="141.0" y1="246.5" x2="153.7" y2="246.5" stroke="#000" stroke-width="4.2" stroke-linecap="round"/>
<line x1="428.8" y1="693.7" x2="428.8" y2="705.6" stroke="#000" stroke-width="4.2" stroke-linecap="round"/>
<line x1="141.0" y1="353.9" x2="153.7" y2="353.9" stroke="#000" stroke-width="4.2" stroke-linecap="round"/>
<line x1="566.4" y1="693.7" x2="566.4" y2="705.6" stroke="#000" stroke-width="4.2" stroke-linecap="round"/>
<line x1="141.0" y1="461.4" x2="153.7" y2="461.4" stroke="#000" stroke-width="4.2" stroke-linecap="round"/>
<line x1="704.0" y1="693.7" x2="704.0" y2="705.6" stroke="#000" stroke-width="4.2" stroke-linecap="round"/>
<line x1="141.0" y1="568.8" x2="153.7" y2="568.8" stroke="#000" stroke-width="4.2" stroke-linecap="round"/>
<line x1="841.7" y1="693.7" x2="841.7" y2="705.6" stroke="#000" stroke-width="4.2" stroke-linecap="round"/>
<line x1="141.0" y1="676.2" x2="153.7" y2="676.2" stroke="#000" stroke-width="4.2" stroke-linecap="round"/>
<line x1="979.3" y1="693.7" x2="979.3" y2="705.6" stroke="#000" stroke-width="4.2" stroke-linecap="round"/>
<line x1="658" y1="60.6" x2="718" y2="60.6" stroke="#000000" stroke-width="4.2" stroke-linecap="round"/>
<line x1="658" y1="92.9" x2="718" y2="92.9" stroke="#ff0000" stroke-width="4.2" stroke-linecap="round"/>
<line x1="658" y1="125.1" x2="718" y2="125.1" stroke="#0000ff" stroke-width="4.2" stroke-linecap="round"/>
<line x1="658" y1="157.4" x2="718" y2="157.4" stroke="#ff00ff" stroke-width="4.2" stroke-linecap="round"/>
<line x1="658" y1="189.7" x2="718" y2="189.7" stroke="#008000" stroke-width="4.2" stroke-linecap="round"/>
<line x1="658" y1="222.0" x2="718" y2="222.0" stroke="#000080" stroke-width="4.2" stroke-linecap="round"/>
<line x1="658" y1="254.2" x2="718" y2="254.2" stroke="#8000ff" stroke-width="4.2" stroke-linecap="round"/>
<line x1="658" y1="286.5" x2="718" y2="286.5" stroke="#8a0a8a" stroke-width="4.2" stroke-linecap="round"/>
<line x1="658" y1="318.8" x2="718" y2="318.8" stroke="#880808" stroke-width="4.2" stroke-linecap="round"/>
<line x1="658" y1="351.0" x2="718" y2="351.0" stroke="#8a8a12" stroke-width="4.2" stroke-linecap="round"/>
<line x1="658" y1="383.3" x2="718" y2="383.3" stroke="#3a6db5" stroke-width="4.2" stroke-linecap="round"/>
<line x1="658" y1="415.6" x2="718" y2="415.6" stroke="#209a98" stroke-width="4.2" stroke-linecap="round"/>
<line x1="658" y1="447.8" x2="718" y2="447.8" stroke="#ab6a22" stroke-width="4.2" stroke-linecap="round"/>
<line x1="658" y1="480.1" x2="718" y2="480.1" stroke="#1ecf4a" stroke-width="4.2" stroke-linecap="round"/>
<rect x="1155.8" y="54.0" width="816.7" height="663.0" fill="none" stroke="#000" stroke-width="4.2"/>
<line x1="1142.3" y1="54.0" x2="1155.8" y2="54.0" stroke="#000" stroke-width="4.2" stroke-linecap="round"/>
<line x1="1142.3" y1="186.6" x2="1155.8" y2="186.6" stroke="#000" stroke-width="4.2" stroke-linecap="round"/>
<line x1="1142.3" y1="319.1" x2="1155.8" y2="319.1" stroke="#000" stroke-width="4.2" stroke-linecap="round"/>
<line x1="1142.3" y1="451.7" x2="1155.8" y2="451.7" stroke="#000" stroke-width="4.2" stroke-linecap="round"/>
<line x1="1142.3" y1="584.2" x2="1155.8" y2="584.2" stroke="#000" stroke-width="4.2" stroke-linecap="round"/>
<line x1="1142.3" y1="716.8" x2="1155.8" y2="716.8" stroke="#000" stroke-width="4.2" stroke-linecap="round"/>
<line x1="1182.4" y1="717.0" x2="1182.4" y2="729.1" stroke="#000" stroke-width="4.2" stroke-linecap="round"/>
<line x1="1314.1" y1="717.0" x2="1314.1" y2="729.1" stroke="#000" stroke-width="4.2" stroke-linecap="round"/>
<line x1="1445.8" y1="717.0" x2="1445.8" y2="729.1" stroke="#000" stroke-width="4.2" stroke-linecap="round"/>
<line x1="1577.4" y1="717.0" x2="1577.4" y2="729.1" stroke="#000" stroke-width="4.2" stroke-linecap="round"/>
<line x1="1709.1" y1="717.0" x2="1709.1" y2="729.1" stroke="#000" stroke-width="4.2" stroke-linecap="round"/>
<line x1="1840.8" y1="717.0" x2="1840.8" y2="729.1" stroke="#000" stroke-width="4.2" stroke-linecap="round"/>
<line x1="1972.5" y1="717.0" x2="1972.5" y2="729.1" stroke="#000" stroke-width="4.2" stroke-linecap="round"/>
<line x1="1208.8999999999999" y1="534" x2="1208.8999999999999" y2="558.9" stroke="#7a7a7a" stroke-width="1.9"/>
<line x1="1202.3999999999999" y1="534" x2="1215.3999999999999" y2="534" stroke="#5a5a5a" stroke-width="2"/>
<line x1="1202.3999999999999" y1="558.9" x2="1215.3999999999999" y2="558.9" stroke="#5a5a5a" stroke-width="2"/>
<line x1="1235.3" y1="379" x2="1235.3" y2="408.3" stroke="#7a7a7a" stroke-width="1.9"/>
<line x1="1228.8" y1="379" x2="1241.8" y2="379" stroke="#5a5a5a" stroke-width="2"/>
<line x1="1228.8" y1="408.3" x2="1241.8" y2="408.3" stroke="#5a5a5a" stroke-width="2"/>
<line x1="1274.5" y1="214.6" x2="1274.5" y2="265.5" stroke="#7a7a7a" stroke-width="1.9"/>
<line x1="1268.0" y1="214.6" x2="1281.0" y2="214.6" stroke="#5a5a5a" stroke-width="2"/>
<line x1="1268.0" y1="265.5" x2="1281.0" y2="265.5" stroke="#5a5a5a" stroke-width="2"/>
<line x1="1314.1999999999998" y1="163.4" x2="1314.1999999999998" y2="253.4" stroke="#7a7a7a" stroke-width="1.9"/>
<line x1="1307.6999999999998" y1="163.4" x2="1320.6999999999998" y2="163.4" stroke="#5a5a5a" stroke-width="2"/>
<line x1="1307.6999999999998" y1="253.4" x2="1320.6999999999998" y2="253.4" stroke="#5a5a5a" stroke-width="2"/>
<line x1="1445.8999999999999" y1="159.5" x2="1445.8999999999999" y2="220.6" stroke="#7a7a7a" stroke-width="1.9"/>
<line x1="1439.3999999999999" y1="159.5" x2="1452.3999999999999" y2="159.5" stroke="#5a5a5a" stroke-width="2"/>
<line x1="1439.3999999999999" y1="220.6" x2="1452.3999999999999" y2="220.6" stroke="#5a5a5a" stroke-width="2"/>
<line x1="1577.5" y1="192.2" x2="1577.5" y2="240.1" stroke="#7a7a7a" stroke-width="1.9"/>
<line x1="1571.0" y1="192.2" x2="1584.0" y2="192.2" stroke="#5a5a5a" stroke-width="2"/>
<line x1="1571.0" y1="240.1" x2="1584.0" y2="240.1" stroke="#5a5a5a" stroke-width="2"/>
<line x1="1709.3" y1="176.7" x2="1709.3" y2="263.7" stroke="#7a7a7a" stroke-width="1.9"/>
<line x1="1702.8" y1="176.7" x2="1715.8" y2="176.7" stroke="#5a5a5a" stroke-width="2"/>
<line x1="1702.8" y1="263.7" x2="1715.8" y2="263.7" stroke="#5a5a5a" stroke-width="2"/>
<line x1="1841.0" y1="224.8" x2="1841.0" y2="293" stroke="#7a7a7a" stroke-width="1.9"/>
<line x1="1834.5" y1="224.8" x2="1847.5" y2="224.8" stroke="#5a5a5a" stroke-width="2"/>
<line x1="1834.5" y1="293" x2="1847.5" y2="293" stroke="#5a5a5a" stroke-width="2"/>
<line x1="1191.8999999999999" y1="649.3" x2="1191.8999999999999" y2="672" stroke="#7a7a7a" stroke-width="1.9"/>
<line x1="1185.3999999999999" y1="649.3" x2="1198.3999999999999" y2="649.3" stroke="#5a5a5a" stroke-width="2"/>
<line x1="1185.3999999999999" y1="672" x2="1198.3999999999999" y2="672" stroke="#5a5a5a" stroke-width="2"/>
<line x1="1197.0" y1="651.0" x2="1206.9" y2="559.0" stroke="#1a1a1a" stroke-width="2.4"/>
<line x1="1210.5" y1="533.5" x2="1232.5" y2="406.0" stroke="#1a1a1a" stroke-width="2.4"/>
<line x1="1237.9" y1="380.6" x2="1270.7" y2="252.7" stroke="#1a1a1a" stroke-width="2.4"/>
<line x1="1285.9" y1="230.3" x2="1301.6" y2="217.6" stroke="#1a1a1a" stroke-width="2.4"/>
<line x1="1326.4" y1="206.1" x2="1432.5" y2="191.6" stroke="#1a1a1a" stroke-width="2.4"/>
<line x1="1458.0" y1="192.3" x2="1564.2" y2="213.6" stroke="#1a1a1a" stroke-width="2.4"/>
<line x1="1589.7" y1="216.4" x2="1695.9" y2="219.2" stroke="#1a1a1a" stroke-width="2.4"/>
<line x1="1721.4" y1="223.3" x2="1827.7" y2="254.9" stroke="#1a1a1a" stroke-width="2.4"/>
<rect x="1173.1" y="686.7" width="18.6" height="18.6" fill="#000"/>
<rect x="1172.7" y="669.7" width="18.6" height="18.6" fill="#000"/>
<rect x="1175.7" y="680.7" width="18.6" height="18.6" fill="#000"/>
<rect x="1177.0" y="675.2" width="18.6" height="18.6" fill="#000"/>
<rect x="1178.4" y="666.7" width="18.6" height="18.6" fill="#000"/>
<rect x="1179.7" y="659.0" width="18.6" height="18.6" fill="#000"/>
<rect x="1182.3" y="654.8" width="18.6" height="18.6" fill="#000"/>
<rect x="1186.3" y="654.5" width="18.6" height="18.6" fill="#000"/>
<rect x="1199.0" y="536.9" width="18.6" height="18.6" fill="#000"/>
<rect x="1225.4" y="384.0" width="18.6" height="18.6" fill="#000"/>
<rect x="1264.6" y="230.7" width="18.6" height="18.6" fill="#000"/>
<rect x="1304.3" y="198.6" width="18.6" height="18.6" fill="#000"/>
<rect x="1436.0" y="180.5" width="18.6" height="18.6" fill="#000"/>
<rect x="1567.6" y="206.8" width="18.6" height="18.6" fill="#000"/>
<rect x="1699.4" y="210.2" width="18.6" height="18.6" fill="#000"/>
<rect x="1831.1" y="249.4" width="18.6" height="18.6" fill="#000"/>
<g font-family="'Liberation Sans', Arial, sans-serif" font-weight="bold" fill="#000">
<text x="0" y="0" font-size="37.70" text-anchor="end" letter-spacing="2.40" transform="translate(133.60 41.70) scale(0.9200 1)">180</text>
<text x="0" y="0" font-size="37.70" text-anchor="end" letter-spacing="2.40" transform="translate(133.60 149.02) scale(0.9200 1)">150</text>
<text x="0" y="0" font-size="37.70" text-anchor="end" letter-spacing="2.40" transform="translate(133.60 256.33) scale(0.9200 1)">120</text>
<text x="0" y="0" font-size="37.70" text-anchor="end" letter-spacing="2.40" transform="translate(133.60 363.65) scale(0.9200 1)">90</text>
<text x="0" y="0" font-size="37.70" text-anchor="end" letter-spacing="2.40" transform="translate(133.60 470.97) scale(0.9200 1)">60</text>
<text x="0" y="0" font-size="37.70" text-anchor="end" letter-spacing="2.40" transform="translate(133.60 578.28) scale(0.9200 1)">30</text>
<text x="0" y="0" font-size="37.70" text-anchor="end" letter-spacing="2.40" transform="translate(133.60 685.60) scale(0.9200 1)">0</text>
<text x="0" y="0" font-size="37.50" text-anchor="middle" letter-spacing="2.40" transform="translate(153.40 742.30) scale(0.9200 1)">450</text>
<text x="0" y="0" font-size="37.50" text-anchor="middle" letter-spacing="2.40" transform="translate(291.03 742.30) scale(0.9200 1)">475</text>
<text x="0" y="0" font-size="37.50" text-anchor="middle" letter-spacing="2.40" transform="translate(428.67 742.30) scale(0.9200 1)">500</text>
<text x="0" y="0" font-size="37.50" text-anchor="middle" letter-spacing="2.40" transform="translate(566.30 742.30) scale(0.9200 1)">525</text>
<text x="0" y="0" font-size="37.50" text-anchor="middle" letter-spacing="2.40" transform="translate(703.93 742.30) scale(0.9200 1)">550</text>
<text x="0" y="0" font-size="37.50" text-anchor="middle" letter-spacing="2.40" transform="translate(841.57 742.30) scale(0.9200 1)">575</text>
<text x="0" y="0" font-size="37.50" text-anchor="middle" letter-spacing="2.40" transform="translate(979.20 742.30) scale(0.9200 1)">600</text>
<text x="0" y="0" font-size="38.00" text-anchor="start" letter-spacing="1.80" transform="translate(412.00 786.60) scale(0.9300 1)">Wavelength (nm)</text>
<text x="0" y="0" font-size="40.00" text-anchor="start" transform="translate(42.80 604.80) rotate(-90) scale(0.9730 1)">ThT Fluoresence Intensity</text>
<text x="596.30" y="89.10" font-size="57.50" text-anchor="start">A</text>
<text x="0" y="0" font-size="58.50" text-anchor="start" transform="translate(1878.80 132.70) scale(0.9550 1)">B</text>
<text x="0" y="0" font-size="24.00" text-anchor="start" letter-spacing="2.25" transform="translate(724.00 69.30) scale(0.9300 1)">a-LA 0 SHMP</text>
<text x="0" y="0" font-size="24.00" text-anchor="start" letter-spacing="2.25" transform="translate(724.00 101.57) scale(0.9300 1)">a-LA 0.01mM SHMP</text>
<text x="0" y="0" font-size="24.00" text-anchor="start" letter-spacing="2.25" transform="translate(724.00 133.84) scale(0.9300 1)">a-LA 0.02mM SHMP</text>
<text x="0" y="0" font-size="24.00" text-anchor="start" letter-spacing="2.25" transform="translate(724.00 166.11) scale(0.9300 1)">a-LA 0.03mM SHMP</text>
<text x="0" y="0" font-size="24.00" text-anchor="start" letter-spacing="2.25" transform="translate(724.00 198.38) scale(0.9300 1)">a-LA 0.04mM SHMP</text>
<text x="0" y="0" font-size="24.00" text-anchor="start" letter-spacing="2.25" transform="translate(724.00 230.65) scale(0.9300 1)">a-LA 0.05mM SHMP</text>
<text x="0" y="0" font-size="24.00" text-anchor="start" letter-spacing="2.25" transform="translate(724.00 262.92) scale(0.9300 1)">a-LA 0.07mM SHMP</text>
<text x="0" y="0" font-size="24.00" text-anchor="start" letter-spacing="2.25" transform="translate(724.00 295.19) scale(0.9300 1)">a-LA 0.1mM SHMP</text>
<text x="0" y="0" font-size="24.00" text-anchor="start" letter-spacing="2.25" transform="translate(724.00 327.46) scale(0.9300 1)">a-LA 0.2mM SHMP</text>
<text x="0" y="0" font-size="24.00" text-anchor="start" letter-spacing="2.25" transform="translate(724.00 359.73) scale(0.9300 1)">a-LA 0.4mM SHMP</text>
<text x="0" y="0" font-size="24.00" text-anchor="start" letter-spacing="2.25" transform="translate(724.00 392.00) scale(0.9300 1)">a-LA 0.8mM SHMP</text>
<text x="0" y="0" font-size="24.00" text-anchor="start" letter-spacing="2.25" transform="translate(724.00 424.27) scale(0.9300 1)">a-LA 1.0mM SHMP</text>
<text x="0" y="0" font-size="24.00" text-anchor="start" letter-spacing="2.25" transform="translate(724.00 456.54) scale(0.9300 1)">a-LA 2.0mM SHMP</text>
<text x="0" y="0" font-size="24.00" text-anchor="start" letter-spacing="2.25" transform="translate(717.50 488.81) scale(0.9300 1)">a-LA 5.0mM SHMP</text>
<text x="0" y="0" font-size="37.70" text-anchor="end" letter-spacing="2.40" transform="translate(1136.70 62.90) scale(0.9200 1)">200</text>
<text x="0" y="0" font-size="37.70" text-anchor="end" letter-spacing="2.40" transform="translate(1136.70 195.46) scale(0.9200 1)">160</text>
<text x="0" y="0" font-size="37.70" text-anchor="end" letter-spacing="2.40" transform="translate(1136.70 328.02) scale(0.9200 1)">120</text>
<text x="0" y="0" font-size="37.70" text-anchor="end" letter-spacing="2.40" transform="translate(1136.70 460.58) scale(0.9200 1)">80</text>
<text x="0" y="0" font-size="37.70" text-anchor="end" letter-spacing="2.40" transform="translate(1136.70 593.14) scale(0.9200 1)">40</text>
<text x="0" y="0" font-size="37.70" text-anchor="end" letter-spacing="2.40" transform="translate(1136.70 725.70) scale(0.9200 1)">0</text>
<text x="0" y="0" font-size="37.50" text-anchor="middle" letter-spacing="2.40" transform="translate(1182.90 766.20) scale(0.9200 1)">0</text>
<text x="0" y="0" font-size="37.50" text-anchor="middle" letter-spacing="2.40" transform="translate(1314.58 766.20) scale(0.9200 1)">1</text>
<text x="0" y="0" font-size="37.50" text-anchor="middle" letter-spacing="2.40" transform="translate(1446.26 766.20) scale(0.9200 1)">2</text>
<text x="0" y="0" font-size="37.50" text-anchor="middle" letter-spacing="2.40" transform="translate(1577.94 766.20) scale(0.9200 1)">3</text>
<text x="0" y="0" font-size="37.50" text-anchor="middle" letter-spacing="2.40" transform="translate(1709.62 766.20) scale(0.9200 1)">4</text>
<text x="0" y="0" font-size="37.50" text-anchor="middle" letter-spacing="2.40" transform="translate(1841.30 766.20) scale(0.9200 1)">5</text>
<text x="0" y="0" font-size="37.50" text-anchor="middle" letter-spacing="2.40" transform="translate(1972.98 766.20) scale(0.9200 1)">6</text>
<text x="1459.30" y="833.10" font-size="37.60" text-anchor="start">[SHMP] mM</text>
<text x="0" y="0" font-size="40.70" text-anchor="start" transform="translate(1046.30 533.50) rotate(-90) scale(0.9710 1)">F.I. at 485 nm</text>
</g>
</g></svg></body></html>
